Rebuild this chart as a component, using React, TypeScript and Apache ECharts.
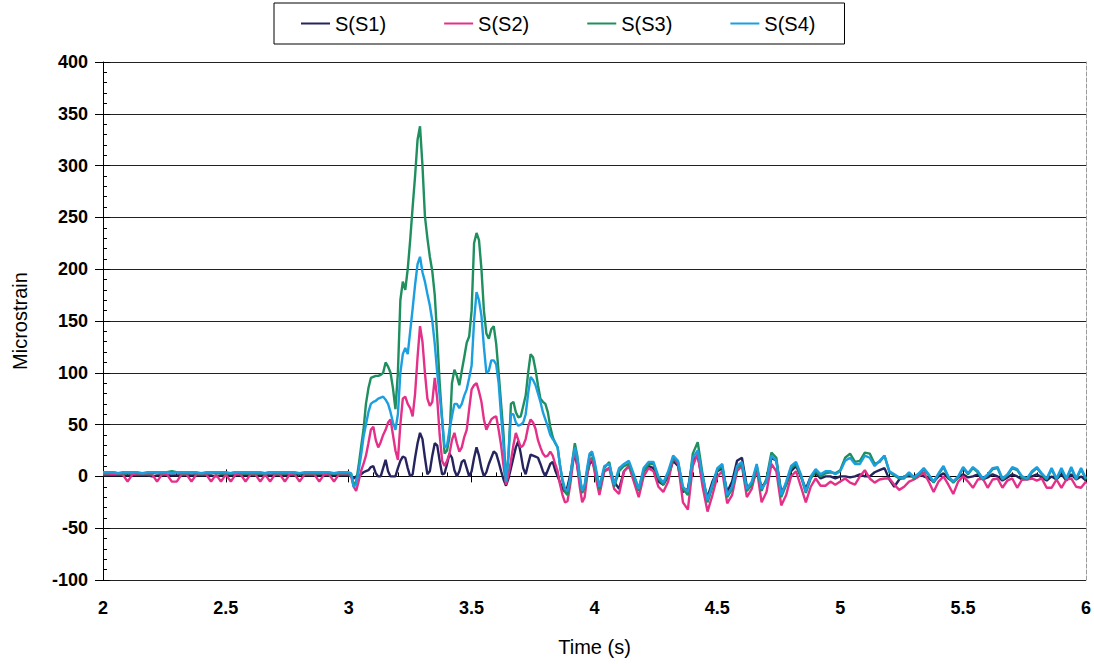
import React, { useEffect, useRef } from "react";
import * as echarts from "echarts";

// Sampling of the time axis: [start, end, step] in seconds
const timeSegments: number[][] = [
  [2.0, 2.98, 0.02],
  [3.0, 4.0, 0.01],
  [4.02, 6.0, 0.02],
];

const seriesNames = ["S(S1)", "S(S2)", "S(S3)", "S(S4)"];
const yTicks = [-100, -50, 0, 50, 100, 150, 200, 250, 300, 350, 400];
const xTicks = [2, 2.5, 3, 3.5, 4, 4.5, 5, 5.5, 6];

// ---- 2.00 .. 2.98 (step 0.02) ----
const s1Flat = [1,1,1,1,1,1,1,1,1,1, 0,1,1,1,1,1,1,1,1,1, 1,1,1,0,1,1,1,1,1,1, 1,1,1,1,1,1,1,1,1,1, 2,1,1,1,1,1,1,1,1,1];
const s2Flat = [2,2,2,2,2,-5,2,2,2,2, 2,-5,2,2,-5,-5,2,2,-5,2, 2,2,-5,2,-5,2,-5,2,2,-5, 2,2,-5,2,-5,2,2,-5,2,2, -5,2,2,2,-5,2,2,-5,2,2];
const s3Flat = [3,3,4,3,3,3,4,3,3,3, 3,4,3,4,5,4,3,3,4,3, 3,3,4,3,3,3,3,4,3,3, 3,3,3,3,4,3,3,3,4,3, 3,3,3,3,3,4,3,3,3,3];
const s4Flat = [4,4,4,3,4,4,4,4,3,4, 4,4,4,4,3,4,4,4,4,4, 3,4,4,4,4,4,3,4,4,4, 4,4,4,3,4,4,4,4,4,4, 3,4,4,4,4,4,4,3,4,4];

// ---- 3.00 .. 4.00 (step 0.01) ----
const s1Active = [
  1, 0, -2, 0, 0, 2, 4, 5, 6, 9,
  10, 3, 0, 0, 8, 16, 5, 0, 0, 0,
  8, 15, 19, 18, 8, 0, 2, 18, 32, 42,
  36, 18, 2, 5, 20, 32, 30, 15, 2, 3,
  12, 22, 18, 6, 0, 5, 14, 16, 8, 0,
  5, 18, 28, 20, 8, 0, 4, 12, 18, 24,
  22, 14, 5, -3, -9, -2, 8, 18, 28, 34,
  22, 8, 2, 12, 21, 20, 19, 18, 12, 5,
  0, 6, 12, 14, 6, 0, -6, -12, -15, -10,
  0, 12, 22, 10, -5, -15, -10, 2, 12, 15,
  8,
];
const s2Active = [
  2, 0, -10, -14, -5, 5, 12, 20, 32, 45,
  48, 35, 28, 33, 40, 45, 52, 55, 40, 25,
  16, 50, 75, 77, 70, 66, 58, 80, 115, 145,
  130, 100, 75, 68, 72, 95, 75, 40, 15, 10,
  15, 22, 35, 42, 32, 24, 28, 38, 45, 65,
  84, 88, 90, 82, 72, 55, 45, 50, 55, 57,
  58, 45, 30, 10, -8, 2, 15, 30, 42, 35,
  28, 30, 36, 48, 55, 52, 46, 35, 28, 22,
  19, 20, 24, 20, 12, 5, -8, -18, -25, -24,
  -10, 8, 28, 10, -10, -25, -20, 0, 15, 18,
  5,
];
const s3Active = [
  3, 2, -8, -5, 10, 28, 45, 70, 85, 95,
  96, 97, 97, 98, 100, 110, 106, 100, 85, 65,
  100, 170, 188, 180, 200, 228, 260, 290, 325, 338,
  300, 251, 230, 212, 198, 175, 135, 90, 55, 22,
  25, 38, 90, 103, 97, 88, 102, 115, 129, 135,
  160, 225, 235, 228, 200, 160, 138, 133, 142, 145,
  128, 100, 70, 40, -5, 20, 70, 72, 62, 57,
  58, 68, 78, 100, 118, 115, 103, 88, 75, 72,
  70, 62, 48, 38, 32, 28, 10, -5, -15, -18,
  -5, 15, 32, 20, 0, -16, -10, 5, 20, 22,
  12,
];
const s4Active = [
  4, 3, -10, -8, 5, 20, 38, 50, 62, 70,
  72, 73, 75, 76, 77, 74, 70, 62, 52, 45,
  60, 100, 118, 124, 118, 140, 162, 185, 205, 212,
  197, 188, 176, 165, 150, 128, 100, 78, 55, 28,
  30, 45, 58, 70, 70, 66, 70, 78, 84, 95,
  107, 150, 178, 170, 155, 125, 100, 102, 112, 112,
  108, 90, 58, 30, -5, 20, 60, 60, 52, 49,
  50, 52, 60, 80, 96, 93, 88, 80, 72, 62,
  55, 48, 40, 36, 33, 28, 10, -3, -12, -14,
  -3, 15, 28, 18, 0, -14, -8, 8, 22, 24,
  15,
];

// ---- 4.02 .. 6.00 (step 0.02) ----
const s1Late = [
  -10, 5, 8, -5, -12, 5, 10, 0, -12, 5,
  10, 8, -5, -8, 0, 15, 10, -15, -12, 15,
  20, -5, -20, -5, 5, 8, -15, -5, 15, 18,
  -10, -8, 5, -10, -5, 18, 15, -15, -8, 5,
  10, 0, -12, 0, 3, -2, 0, 0, -2, 0,
  0, -1, 0, 2, 0, 0, 4, 6, 8, -3,
  -10, -3, 0, 0, 0, 2, 0, -2, -5, 0,
  3, -2, -5, -1, 2, -1, 0, 2, -3, -1,
  2, 0, -4, -1, 2, 0, -3, -2, 0, 2,
  -1, -4, 0, -3, 2, -4, 2, -3, 0, -4,
];
const s2Late = [
  -18, 5, 8, -12, -17, 5, 10, -5, -20, 0,
  8, 5, -10, -15, -5, 18, 12, -25, -32, 10,
  22, -10, -34, -18, 0, 5, -26, -18, 5, 10,
  -20, -12, 8, -25, -15, 12, 5, -28, -18, 0,
  5, -10, -25, -10, -2, -9, -9, -5, -8, -5,
  -2, -6, -8, 0, 6, -2, -6, -3, -2, -2,
  -8, -13, -10, -5, -3, 0, 4, -5, -15, -5,
  0, -8, -17, -5, 0, -5, -11, -3, -2, -11,
  -3, -2, -11, -4, -2, -11, -3, -3, -2, -4,
  -2, -11, -11, -3, -11, -3, -2, -10, -11, -5,
];
const s3Late = [
  -12, 8, 14, -10, 5, 10, 12, 0, -14, 5,
  12, 12, -2, -8, 3, 18, 14, -12, -18, 22,
  33, 2, -25, -10, 6, 10, -20, -12, 8, 12,
  -14, -8, 10, -14, -2, 23, 18, -20, -8, 8,
  12, 0, -16, -2, 5, 0, 3, 4, 3, 6,
  18, 22, 14, 15, 23, 22, 12, 14, 20, 4,
  1, -2, -2, 3, -2, 2, 7, 1, -6, 2,
  9, -1, -6, -1, 8, 2, 8, 4, -3, 1,
  7, 8, -3, 1, 8, 6, -1, -3, 4, 8,
  2, -3, 7, -3, 7, -3, 8, -3, 7, -3,
];
const s4Late = [
  -10, 10, 12, -8, 8, 12, 15, 2, -12, 8,
  14, 14, 0, -6, 5, 20, 15, -10, -15, 18,
  25, 0, -23, -8, 8, 12, -18, -10, 10, 14,
  -12, -5, 12, -12, -5, 20, 15, -18, -5, 10,
  14, 2, -15, 0, 7, 2, 5, 5, 2, 5,
  15, 18, 12, 12, 20, 18, 10, 15, 20, 5,
  2, -1, -1, 4, -1, 3, 8, 2, -5, 3,
  10, 0, -5, 0, 9, 3, 9, 5, -2, 2,
  8, 9, -2, 2, 9, 7, 0, -2, 5, 9,
  3, -2, 8, -2, 8, -2, 9, -2, 8, -2,
];

const colors = ["#25245e", "#e5308a", "#1f8f5f", "#1b9fe0"];
const FONT = "'Liberation Sans', Arial, Helvetica, sans-serif";

function buildTimes(): number[] {
  const out: number[] = [];
  for (const [a, b, step] of timeSegments) {
    const n = Math.round((b - a) / step);
    for (let i = 0; i <= n; i++) out.push(Math.round((a + i * step) * 1000) / 1000);
  }
  return out;
}

export default function App() {
  const ref = useRef<HTMLDivElement>(null);
  useEffect(() => {
    if (!ref.current) return;
    const chart = echarts.init(ref.current, null, { renderer: "svg" });
    const times = buildTimes();
    const values = [
      [...s1Flat, ...s1Active, ...s1Late],
      [...s2Flat, ...s2Active, ...s2Late],
      [...s3Flat, ...s3Active, ...s3Late],
      [...s4Flat, ...s4Active, ...s4Late],
    ];
    const yMin = yTicks[0];
    const yMax = yTicks[yTicks.length - 1];
    const yStep = yTicks[1] - yTicks[0];
    const xMin = xTicks[0];
    const xMax = xTicks[xTicks.length - 1];
    const xStep = xTicks[1] - xTicks[0];

    chart.setOption({
      animation: false,
      backgroundColor: "#ffffff",
      textStyle: { fontFamily: FONT },
      legend: {
        data: seriesNames,
        left: 274,
        top: 3,
        orient: "horizontal",
        icon: "rect",
        itemWidth: 29,
        itemHeight: 2,
        itemGap: 58,
        padding: [10, 29, 10, 27],
        borderColor: "#000",
        borderWidth: 1,
        textStyle: { fontSize: 20, color: "#000", fontFamily: FONT, lineHeight: 21 },
      },
      grid: { left: 103, right: 8, top: 62, bottom: 84, containLabel: false },
      xAxis: [
        {
          type: "value",
          min: xMin,
          max: xMax,
          interval: xStep,
          name: "Time (s)",
          nameLocation: "middle",
          nameGap: 57,
          nameTextStyle: { fontSize: 20, color: "#000", fontFamily: FONT },
          axisLine: { show: true, lineStyle: { color: "#000", width: 1 } },
          axisTick: { show: true, inside: false, length: 6, lineStyle: { color: "#000" } },
          axisLabel: { fontSize: 18, fontWeight: "bold", color: "#000", margin: 19, fontFamily: FONT },
          splitLine: { show: false },
        },
        {
          type: "value",
          min: xMin,
          max: xMax,
          interval: xStep,
          position: "bottom",
          axisLine: { show: false },
          axisTick: { show: true, inside: true, length: 7, lineStyle: { color: "#000" } },
          minorTick: { show: true, splitNumber: 5, length: 4, lineStyle: { color: "#000" } },
          axisLabel: { show: false },
          splitLine: { show: false },
        },
      ],
      yAxis: [
        {
          type: "value",
          min: yMin,
          max: yMax,
          interval: yStep,
          name: "Microstrain",
          nameLocation: "middle",
          nameGap: 73,
          nameTextStyle: { fontSize: 20, color: "#000", fontFamily: FONT },
          axisLine: { show: true, lineStyle: { color: "#000", width: 1 } },
          axisTick: { show: true, inside: false, length: 8, lineStyle: { color: "#000" } },
          axisLabel: { fontSize: 18, fontWeight: "bold", color: "#000", margin: 15, fontFamily: FONT },
          splitLine: { show: true, lineStyle: { color: "#222", width: 1 } },
        },
        {
          type: "value",
          min: yMin,
          max: yMax,
          interval: yStep,
          position: "left",
          axisLine: { show: false },
          axisTick: { show: true, inside: true, length: 7, lineStyle: { color: "#000" } },
          minorTick: { show: true, splitNumber: 5, length: 4, lineStyle: { color: "#000" } },
          axisLabel: { show: false },
          splitLine: { show: false },
        },
        {
          type: "value",
          min: yMin,
          max: yMax,
          interval: yStep,
          position: "right",
          axisLine: { show: true, lineStyle: { color: "#9a9a9a", type: "dashed", width: 1 } },
          axisTick: { show: false },
          axisLabel: { show: false },
          splitLine: { show: false },
        },
      ],
      series: seriesNames.map((name, k) => ({
        name,
        type: "line",
        xAxisIndex: 0,
        yAxisIndex: 0,
        symbol: "none",
        showSymbol: false,
        color: colors[k],
        lineStyle: { color: colors[k], width: 2.4 },
        data: times.map((t, i) => [t, values[k][i]]),
      })),
    });
    return () => chart.dispose();
  }, []);

  return (
    <div
      ref={ref}
      style={{ position: "fixed", left: 0, top: 0, width: 1094, height: 664, background: "#fff" }}
    />
  );
}
